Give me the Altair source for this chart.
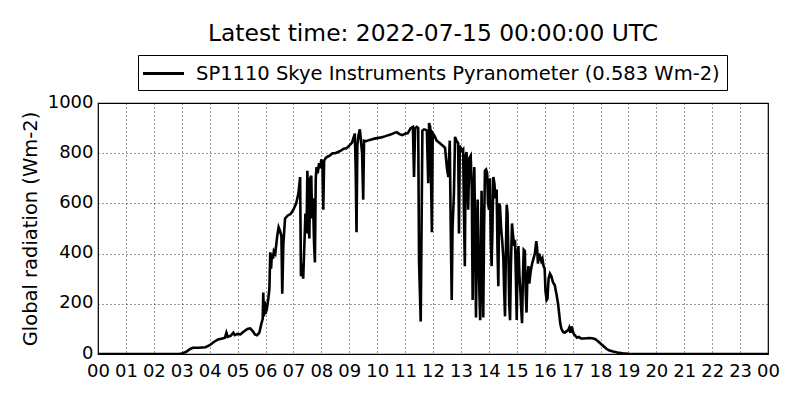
import altair as alt
import pandas as pd

# Time of day (hours, UTC) and global radiation (W m-2)
hours = [
    0.0, 2.9, 3.0, 3.15, 3.3, 3.4, 3.6, 3.85, 4.0, 4.15, 4.3, 4.45, 4.55, 4.6, 4.65, 4.75, 4.85, 4.9,
    5.0, 5.1, 5.2, 5.35, 5.45, 5.55, 5.62, 5.7, 5.78, 5.85, 5.9, 5.92, 5.94, 5.97,
    6.0, 6.05, 6.1, 6.14, 6.17, 6.2, 6.23, 6.27, 6.3, 6.35, 6.42, 6.47, 6.52, 6.57, 6.6, 6.64, 6.7, 6.8, 6.9,
    7.0, 7.1, 7.18, 7.24, 7.27, 7.31, 7.35, 7.4, 7.43, 7.47, 7.5, 7.53, 7.57, 7.6, 7.64, 7.67, 7.7, 7.74, 7.77,
    7.8, 7.83, 7.87, 7.92, 7.96, 8.0, 8.04, 8.07, 8.1, 8.15, 8.2, 8.3, 8.4, 8.5, 8.6, 8.7, 8.8, 8.9,
    9.0, 9.1, 9.15, 9.2, 9.23, 9.26, 9.29, 9.33, 9.38, 9.42, 9.46, 9.5, 9.53, 9.6, 9.7, 9.8, 9.9,
    10.0, 10.1, 10.2, 10.3, 10.4, 10.5, 10.6, 10.7, 10.8, 10.9,
    11.0, 11.1, 11.2, 11.28, 11.32, 11.36, 11.42, 11.47, 11.5, 11.53, 11.56, 11.59, 11.62, 11.68, 11.74,
    11.78, 11.83, 11.86, 11.9, 11.93, 11.96, 11.99,
    12.05, 12.13, 12.25, 12.35, 12.43, 12.5, 12.55, 12.6, 12.64, 12.67, 12.7, 12.75, 12.79, 12.84, 12.9,
    12.93, 12.96, 13.0, 13.04, 13.08, 13.11, 13.14, 13.17, 13.2, 13.23, 13.26, 13.3, 13.35, 13.39, 13.42,
    13.45, 13.48, 13.51, 13.54, 13.57, 13.6, 13.63, 13.66, 13.69, 13.72, 13.74, 13.77, 13.8, 13.83, 13.86,
    13.9, 13.94, 13.97, 14.01, 14.04, 14.07, 14.1, 14.13, 14.16, 14.2, 14.24, 14.28, 14.31, 14.34, 14.37,
    14.4, 14.44, 14.48, 14.52, 14.55, 14.58, 14.61, 14.64, 14.67, 14.7, 14.73, 14.76, 14.79, 14.83, 14.86,
    14.9, 14.94, 14.97, 15.0, 15.03, 15.06, 15.1, 15.13, 15.16, 15.19, 15.22, 15.25, 15.29, 15.32, 15.35,
    15.38, 15.42, 15.45, 15.5, 15.55, 15.6, 15.65, 15.7, 15.73, 15.76, 15.8, 15.84, 15.88, 15.92, 15.96,
    16.0, 16.03, 16.07, 16.1, 16.14, 16.19, 16.24, 16.3, 16.36, 16.42, 16.48, 16.52, 16.56, 16.6, 16.66,
    16.72, 16.78, 16.84, 16.88, 16.92, 16.96, 17.0, 17.04, 17.1, 17.16, 17.22, 17.3, 17.4, 17.5, 17.6,
    17.7, 17.8, 17.9, 18.0, 18.1, 18.2, 18.3, 18.45, 18.6, 18.8, 19.0, 19.3, 24.0,
]
radiation = [
    0, 0, 2, 8, 20, 25, 25, 27, 35, 48, 58, 62, 65, 85, 68, 72, 85, 75,
    80, 78, 88, 100, 102, 90, 78, 75, 85, 120, 140, 245, 150, 210,
    160, 180, 220, 260, 405, 340, 400, 380, 410, 400, 470, 505, 490, 470, 240, 440, 540, 552, 558,
    575, 600, 640, 705, 310, 360, 300, 460, 560, 480, 730, 560, 460, 700, 710, 540, 620, 440, 365,
    700, 745, 720, 760, 740, 775, 760, 575, 770, 780, 785, 790, 800, 800, 805, 810, 818, 820,
    830, 842, 860, 878, 740, 485, 830, 870, 895, 850, 800, 615, 850, 848, 852, 855, 858,
    860, 862, 865, 868, 872, 875, 880, 884, 876, 872,
    878, 880, 900, 905, 705, 900, 905, 900, 370, 250, 130, 500, 890, 895, 893,
    890, 680, 920, 905, 700, 485, 880,
    870, 850, 840, 830, 822, 740, 705, 850, 460, 215, 500, 640, 865, 850, 840,
    480, 830, 820, 810, 815, 560, 350, 790, 805, 700, 575, 780, 790, 660, 215,
    600, 745, 480, 145, 450, 615, 400, 250, 135, 450, 650, 380, 145, 500, 730,
    735, 720, 600, 575, 700, 450, 350, 500, 705, 680, 620, 655, 420, 270, 600,
    590, 500, 450, 380, 250, 150, 400, 595, 560, 400, 200, 135, 350, 520, 480,
    440, 445, 300, 136, 400, 430, 300, 250, 180, 123, 300, 415, 410, 250, 165,
    300, 350, 280, 330, 360, 380, 400, 450, 420, 360, 400, 385, 370, 380, 350,
    340, 250, 215, 220, 300, 320, 310, 285, 275, 240, 200, 160, 120, 100, 88,
    85, 90, 95, 105, 85, 110, 95, 80, 72, 65, 68, 62, 62, 63, 64,
    63, 60, 52, 42, 32, 22, 15, 10, 6, 3, 1, 0, 0,
]
series_name = "SP1110 Skye Instruments Pyranometer (0.583 Wm-2)"
title_text = "Latest time: 2022-07-15 00:00:00 UTC"
y_title = "Global radiation (Wm-2)"
x_ticks = list(range(0, 25))
y_ticks = [0, 200, 400, 600, 800, 1000]

df = pd.DataFrame({"t": hours, "v": radiation, "series": series_name})

FONT = "DejaVu Sans"

chart = (
    alt.Chart(df)
    .mark_line(strokeWidth=2.6, strokeJoin="miter", clip=True)
    .encode(
        x=alt.X(
            "t:Q",
            scale=alt.Scale(domain=[0, 24], nice=False, zero=False),
            axis=alt.Axis(
                values=x_ticks,
                labelExpr="datum.value == 24 ? '00' : (datum.value < 10 ? '0' + datum.value : '' + datum.value)",
                title=None,
                labelPadding=8,
                labelFlush=False,
                labelOverlap=False,
            ),
        ),
        y=alt.Y(
            "v:Q",
            scale=alt.Scale(domain=[0, 1000], nice=False),
            axis=alt.Axis(
                values=y_ticks,
                format="d",
                title=y_title,
                labelPadding=5,
                labelOffset=-1,
                titlePadding=7,
                titleFontSize=19.5,
            ),
        ),
        color=alt.Color(
            "series:N",
            scale=alt.Scale(range=["black"]),
            legend=alt.Legend(
                title=None,
                orient="none",
                legendX=40,
                legendY=-48,
                direction="vertical",
                symbolType="M-2.05,0H2.05",
                symbolSize=400,
                symbolOffset=7,
                symbolStrokeWidth=2.8,
                symbolStrokeColor="black",
                labelFontSize=19.5,
                labelFont=FONT,
                labelColor="black",
                labelLimit=800,
                labelOffset=21,
                padding=7,
                strokeColor="black",
                fillColor="white",
                cornerRadius=0,
            ),
        ),
    )
    .properties(
        width=670,
        height=251,
        background="white",
        title=alt.TitleParams(
            text=title_text,
            fontSize=23.4,
            font=FONT,
            fontWeight="normal",
            color="black",
            anchor="middle",
            frame="group",
            offset=8,
        ),
        autosize=alt.AutoSizeParams(type="none"),
        padding={"left": 90, "top": 95, "right": 24, "bottom": 38},
    )
    .configure_view(stroke="black", strokeWidth=1.2)
    .configure_axis(
        domain=False,
        ticks=False,
        tickSize=0,
        grid=True,
        gridColor="black",
        gridDash=[1, 3],
        gridWidth=0.8,
        gridOpacity=1,
        labelFont=FONT,
        labelFontSize=18,
        labelColor="black",
        titleFont=FONT,
        titleFontSize=18,
        titleFontWeight="normal",
        titleColor="black",
    )
)

chart.save("out.html", embed_options={"renderer": "svg", "actions": False})
